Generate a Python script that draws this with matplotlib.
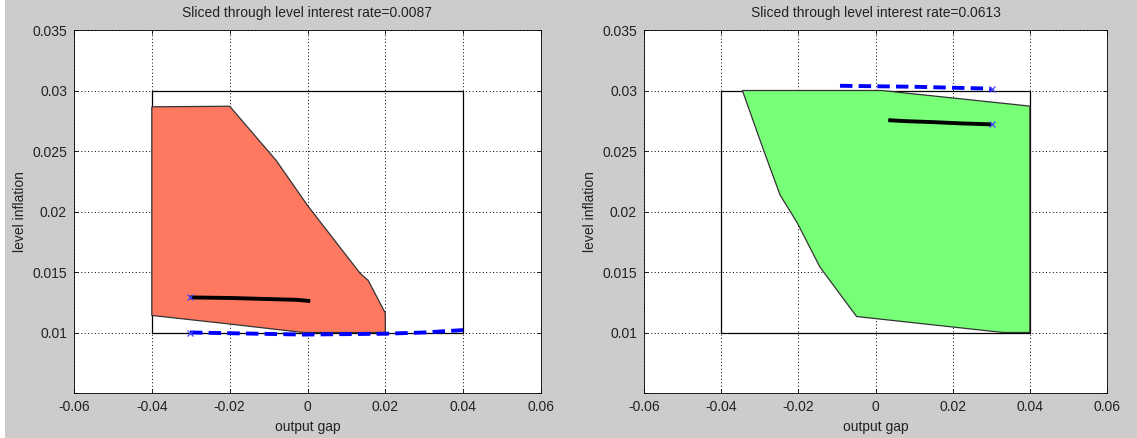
import matplotlib
matplotlib.use("Agg")
import matplotlib.pyplot as plt
from matplotlib.patches import Polygon, Rectangle

plt.rcParams['font.family'] = ['Liberation Sans', 'DejaVu Sans']

# Slice at interest rate 0.0087
left_title = "Sliced through level interest rate=0.0087"
left_region_x = [-0.04, -0.04, -0.02, -0.008, 0.0, 0.0135, 0.0156, 0.02, 0.02, -0.001, -0.02]
left_region_y = [0.01141, 0.02865, 0.0287, 0.0242, 0.0205, 0.0149, 0.0143, 0.0116, 0.0100, 0.0100, 0.0107]
left_path_x = [-0.0302, -0.0195, -0.0028, 0.0007]
left_path_y = [0.0129, 0.01285, 0.0127, 0.0126]
left_dash_x = [-0.0302, -0.001, 0.02, 0.0298, 0.04]
left_dash_y = [0.0100, 0.00983, 0.0099, 0.0100, 0.0102]

# Slice at interest rate 0.0613
right_title = "Sliced through level interest rate=0.0613"
right_region_x = [-0.0345, 0.0016, 0.04, 0.04, 0.0331, -0.0049, -0.0144, -0.0204, -0.0247, -0.0287]
right_region_y = [0.0300, 0.0300, 0.02871, 0.0100, 0.0100, 0.01132, 0.01541, 0.01913, 0.02134, 0.0248]
right_path_x = [0.0033, 0.0076, 0.0154, 0.0223, 0.0301]
right_path_y = [0.02755, 0.02747, 0.02738, 0.02728, 0.0272]
right_dash_x = [-0.0092, 0.0098, 0.0279, 0.0301]
right_dash_y = [0.03039, 0.03031, 0.03017, 0.0301]

# Bounding box of the feasible set
box_x = [-0.04, 0.04]
box_y = [0.01, 0.03]

x_ticks = [-0.06, -0.04, -0.02, 0, 0.02, 0.04, 0.06]
x_labels = ["-0.06", "-0.04", "-0.02", "0", "0.02", "0.04", "0.06"]
y_ticks = [0.005, 0.01, 0.015, 0.02, 0.025, 0.03, 0.035]
y_labels = ["", "0.01", "0.015", "0.02", "0.025", "0.03", "0.035"]

TEXT = "#222222"
W, H = 1137, 438
fig = plt.figure(figsize=(W / 100, H / 100), dpi=100, facecolor="#cccccc")
fig.patches.append(Rectangle((0, 0), 5 / W, 1, transform=fig.transFigure,
                             facecolor="white", edgecolor="none", zorder=-1))

ax_l = fig.add_axes([74 / W, (H - 393) / H, 467 / W, 363 / H])
ax_r = fig.add_axes([644 / W, (H - 393) / H, 463 / W, 363 / H])


def draw(ax, title, rx, ry, fill, px, py, pmark, dx, dy, dmark):
    ax.set_xlim(-0.06, 0.06)
    ax.set_ylim(0.005, 0.035)
    ax.set_xticks(x_ticks)
    ax.set_xticklabels(x_labels)
    ax.set_yticks(y_ticks)
    ax.set_yticklabels(y_labels)
    ax.tick_params(direction="in", length=3, width=0.6, top=True, right=True,
                   labelsize=10, pad=5, colors="black", labelcolor=TEXT)
    ax.grid(True, linestyle=(0, (1, 2.5)), color="black", linewidth=0.7)
    ax.set_axisbelow(True)
    for s in ax.spines.values():
        s.set_linewidth(0.6)

    ax.add_patch(Rectangle((box_x[0], box_y[0]), box_x[1] - box_x[0], box_y[1] - box_y[0],
                           facecolor="none", edgecolor="black", linewidth=0.9, zorder=2))
    ax.add_patch(Polygon(list(zip(rx, ry)), closed=True, facecolor=fill,
                         edgecolor="#333333", linewidth=0.9, zorder=3))
    ax.plot(px, py, color="black", linewidth=2.8, zorder=4, solid_capstyle="butt")
    ax.plot(dx, dy, color="#0000ff", linewidth=2.8, linestyle=(0, (3.2, 1.6)), zorder=4)
    ax.plot([px[pmark]], [py[pmark]], marker="x", color="#4444ff", markersize=4,
            markeredgewidth=0.9, zorder=5)
    ax.plot([dx[dmark]], [dy[dmark]], marker="x", color="#4444ff", markersize=4,
            markeredgewidth=0.9, zorder=5)

    ax.set_title(title, fontsize=10, pad=9, color=TEXT)
    ax.set_xlabel("output gap", fontsize=10, labelpad=4, color=TEXT)
    ax.set_ylabel("level inflation", fontsize=10, labelpad=4, color=TEXT)


draw(ax_l, left_title, left_region_x, left_region_y, "#ff7860",
     left_path_x, left_path_y, 0, left_dash_x, left_dash_y, 0)
draw(ax_r, right_title, right_region_x, right_region_y, "#78ff78",
     right_path_x, right_path_y, -1, right_dash_x, right_dash_y, -1)

fig.savefig("out.png", dpi=100, facecolor=fig.get_facecolor())
